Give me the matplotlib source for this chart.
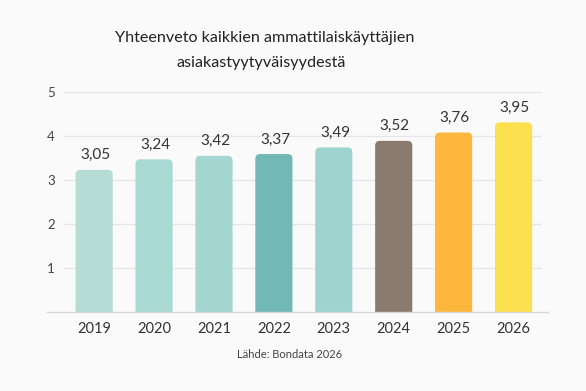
import matplotlib.pyplot as plt
from matplotlib.patches import FancyBboxPatch

years = ["2019", "2020", "2021", "2022", "2023", "2024", "2025", "2026"]
# drawn bar heights (as they appear against the axis)
heights = [3.23, 3.47, 3.55, 3.59, 3.74, 3.89, 4.08, 4.31]
# printed value labels
labels = ["3,05", "3,24", "3,42", "3,37", "3,49", "3,52", "3,76", "3,95"]
colors = ["#b6dcd6", "#a9d9d3", "#a3d6d0", "#72b9b5", "#9dd4cf", "#8a7b6e", "#fdb73d", "#fde04f"]
yticks = [1, 2, 3, 4, 5]

plt.rcParams['font.family'] = ['Lato', 'DejaVu Sans']
bg = "#fbfafb"

fig = plt.figure(figsize=(5.86, 3.91), dpi=100, facecolor=bg)
ax = fig.add_axes([0.1075, 0.202, 0.8169, 0.5627])
ax.set_facecolor(bg)

x = list(range(len(years)))
width = 0.62

# grid
for t in yticks:
    ax.axhline(t, color="#e6e4e6", lw=0.9, zorder=0)
ax.plot([-0.79, 7.58], [0, 0], color="#d9d7d9", lw=1.0, clip_on=False, zorder=3)

# rounded-top bars
aspect = 60 / 44
for xi, h, c in zip(x, heights, colors):
    p = FancyBboxPatch((xi - width / 2, -0.3), width, h + 0.3,
                       boxstyle="round,pad=0,rounding_size=0.08",
                       mutation_aspect=aspect, fc=c, ec="none", zorder=2)
    ax.add_patch(p)
    ax.text(xi + 0.02, h + 0.33, labels[xi], ha="center", va="center",
            fontsize=11, color="#333333")

ax.set_xlim(-0.52, 7.47)
ax.set_ylim(0, 5)
ax.set_xticks(x)
ax.set_xticklabels(years, fontsize=10.5, color="#333333")
ax.set_yticks(yticks)
ax.set_yticklabels([str(t) for t in yticks], fontsize=9.5, color="#444444")
ax.tick_params(axis="both", length=0)
ax.tick_params(axis="y", pad=6)
ax.tick_params(axis="x", pad=7)
for s in ax.spines.values():
    s.set_visible(False)

fig.text(265 / 586, 1 - 38 / 391, "Yhteenveto kaikkien ammattilaiskäyttäjien",
         ha="center", va="center", fontsize=11.6, color="#222222")
fig.text(261 / 586, 1 - 63 / 391, "asiakastyytyväisyydestä",
         ha="center", va="center", fontsize=11.6, color="#222222")
fig.text(290 / 586, 1 - 354 / 391, "Lähde: Bondata 2026",
         ha="center", va="center", fontsize=8, color="#444444")

fig.savefig("out.png", dpi=100, facecolor=bg)
